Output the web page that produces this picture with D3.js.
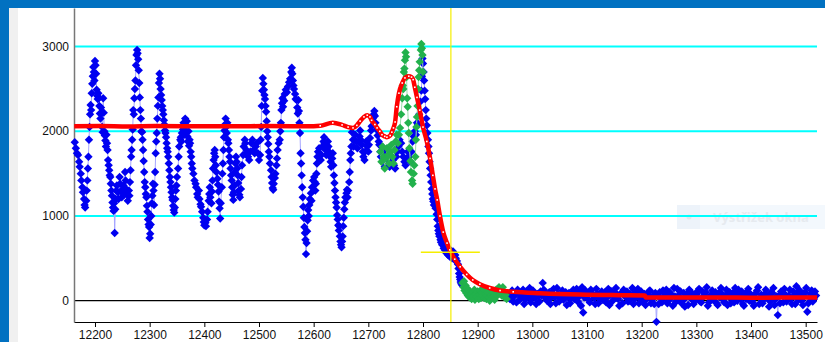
<!DOCTYPE html>
<html>
<head>
<meta charset="utf-8">
<script src="https://cdn.jsdelivr.net/npm/d3@7"></script>
<style>
  body { margin: 0; background: #fff; }
  svg { display: block; }
  .axis text { font-family: "Liberation Sans", Arial, sans-serif; font-size: 12px; fill: #111; }
</style>
</head>
<body>
<svg id="chart" width="825" height="342"></svg>
<script>
const xTicks = [12200, 12300, 12400, 12500, 12600, 12700, 12800, 12900, 13000, 13100, 13200, 13300, 13400, 13500];
const yTicks = [0, 1000, 2000, 3000];
const gridValues = [1000, 2000, 3000];

// measured signal, noisy part and the drop
const blueMain = [
  [12163,1870],[12165,1800],[12167,1740],[12169,1720],[12171,1640],[12172,1580],[12174,1500],[12175,1420],[12177,1340],[12178,1280],
  [12180,1200],[12181,1130],[12182,1100],[12184,1180],[12185,1300],[12186,1420],[12187,1560],[12188,1700],[12189,1900],[12190,2050],
  [12191,2200],[12192,2310],[12193,2250],[12194,2450],[12195,2560],[12196,2650],[12197,2760],[12198,2700],[12199,2600],[12200,2830],
  [12201,2780],[12202,2680],[12203,2490],[12204,2420],[12205,2380],[12206,2450],[12207,2390],[12208,2300],[12209,2210],[12210,2150],
  [12211,2280],[12212,2210],[12213,2050],[12214,1990],[12215,2390],[12216,2220],[12217,2000],[12218,1950],[12219,1890],[12220,1820],
  [12221,1960],[12222,1860],[12223,1780],[12224,1660],[12225,1600],[12226,1540],[12227,1480],[12228,1460],[12229,1380],[12230,1300],
  [12231,1240],[12232,1160],[12233,1100],[12234,1060],[12235,1150],[12236,800],[12237,1080],[12238,1200],[12239,1300],[12240,1360],
  [12242,1280],[12243,1200],[12245,1460],[12246,1380],[12248,1300],[12249,1220],[12250,1280],[12252,1360],[12253,1250],[12255,1520],
  [12256,1420],[12257,1320],[12259,1250],[12260,1180],[12262,1300],[12263,1240],[12264,1400],[12265,1540],[12266,1700],[12267,1780],
  [12268,1900],[12269,2020],[12270,2250],[12271,2200],[12272,2390],[12273,2500],[12274,2600],[12275,2780],[12276,2900],[12277,2960],
  [12278,2920],[12279,2850],[12280,2720],[12281,2570],[12282,2400],[12283,2250],[12284,2150],[12285,2000],[12286,1990],[12287,1900],
  [12288,1780],[12289,1650],[12290,1520],[12291,1400],[12292,1340],[12293,1260],[12294,1220],[12295,1120],[12296,1050],[12297,960],
  [12298,900],[12299,870],[12300,740],[12301,790],[12302,900],[12303,1000],[12304,1150],[12305,1240],[12306,1380],[12307,1300],
  [12308,1130],[12309,1370],[12310,1520],[12311,1740],[12312,1880],[12313,1980],[12314,2150],[12315,2300],[12316,2400],[12317,2570],
  [12318,2680],[12319,2620],[12320,2500],[12321,2430],[12322,2370],[12323,2300],[12324,2250],[12325,2200],[12326,2130],[12327,2080],
  [12328,2010],[12329,1980],[12330,1930],[12331,1860],[12332,1800],[12333,1760],[12334,1700],[12335,1620],[12336,1540],[12337,1460],
  [12338,1400],[12339,1340],[12340,1280],[12341,1220],[12342,1190],[12343,1120],[12344,1070],[12345,1040],[12346,1100],[12347,1200],
  [12348,1300],[12349,1360],[12350,1460],[12352,1560],[12353,1700],[12354,1820],[12356,1900],[12357,1930],[12358,1880],[12359,1980],
  [12360,2060],[12361,2020],[12362,2100],[12363,1960],[12364,2050],[12365,2150],[12366,2080],[12367,1990],[12368,2120],[12369,1940],
  [12370,1880],[12371,2000],[12372,1830],[12373,1900],[12374,1860],[12375,1760],[12376,1700],[12377,1620],[12378,1560],[12380,1500],
  [12382,1420],[12384,1380],[12385,1340],[12387,1260],[12388,1220],[12390,1300],[12391,1200],[12393,1140],[12394,1110],[12396,1050],
  [12398,980],[12399,930],[12400,890],[12402,920],[12403,880],[12405,960],[12406,1050],[12408,1180],[12409,1260],[12410,1340],
  [12411,1220],[12413,1150],[12414,1290],[12415,1420],[12416,1560],[12417,1660],[12418,1740],[12419,1780],[12420,1700],[12421,1600],
  [12422,1520],[12424,1440],[12425,1370],[12426,1290],[12427,1170],[12428,1090],[12429,970],[12430,1150],[12432,1340],[12433,1500],
  [12434,1620],[12435,1780],[12436,1930],[12437,2010],[12438,2080],[12439,2150],[12440,2050],[12441,1980],[12442,2100],[12443,1900],
  [12444,1860],[12445,1780],[12446,1700],[12447,1640],[12448,1560],[12449,1480],[12450,1420],[12451,1340],[12452,1250],[12453,1190],
  [12454,1280],[12455,1360],[12456,1520],[12457,1620],[12458,1700],[12459,1640],[12460,1560],[12461,1480],[12462,1390],[12463,1300],
  [12464,1250],[12465,1220],[12467,1320],[12468,1460],[12469,1600],[12471,1720],[12472,1820],[12474,1900],[12475,1860],[12477,1780],
  [12478,1740],[12480,1700],[12482,1660],[12484,1760],[12486,1860],[12488,1900],[12490,1780],[12492,1740],[12494,1820],[12496,1860],
  [12498,1740],[12500,1660],[12502,1720],[12503,1900],[12504,2050],[12505,2300],[12506,2480],[12507,2630],[12508,2560],[12509,2490],
  [12510,2430],[12511,2380],[12512,2300],[12513,2230],[12514,2120],[12515,2000],[12516,1930],[12517,1850],[12518,1760],[12519,1700],
  [12520,1620],[12522,1540],[12523,1460],[12524,1390],[12525,1330],[12526,1310],[12527,1380],[12529,1450],[12530,1500],[12532,1600],
  [12533,1680],[12534,1780],[12536,1860],[12538,1900],[12539,2000],[12540,2100],[12541,2250],[12542,2330],[12543,2390],[12544,2290],
  [12546,2360],[12547,2440],[12549,2490],[12551,2460],[12553,2530],[12555,2580],[12557,2620],[12559,2700],[12560,2750],[12561,2680],
  [12562,2600],[12563,2540],[12564,2500],[12566,2440],[12567,2380],[12569,2370],[12570,2280],[12571,2210],[12572,2370],[12573,2240],
  [12574,2100],[12575,1980],[12576,1740],[12577,1620],[12578,1480],[12579,1340],[12580,1220],[12581,1110],[12582,980],[12583,870],
  [12584,800],[12585,720],[12586,550],[12587,680],[12588,820],[12589,950],[12590,1070],[12591,1000],[12592,1130],[12593,1200],
  [12595,1270],[12596,1180],[12597,1340],[12599,1420],[12601,1460],[12602,1400],[12603,1300],[12604,1380],[12605,1500],[12606,1620],
  [12607,1700],[12608,1760],[12610,1800],[12611,1740],[12613,1660],[12614,1720],[12616,1820],[12618,1880],[12619,1930],[12620,1860],
  [12622,1780],[12623,1720],[12624,1800],[12626,1880],[12627,1820],[12628,1760],[12630,1700],[12631,1640],[12632,1580],[12634,1680],
  [12635,1740],[12636,1600],[12637,1480],[12638,1390],[12639,1300],[12640,1220],[12641,1160],[12642,1100],[12643,1010],[12644,960],
  [12645,890],[12646,830],[12647,880],[12648,760],[12649,700],[12650,660],[12651,630],[12652,700],[12653,760],[12654,880],
  [12655,980],[12656,1080],[12657,1160],[12658,1220],[12660,1270],[12661,1310],[12662,1220],[12663,1300],[12665,1400],[12666,1520],
  [12667,1660],[12668,1740],[12669,1820],[12670,1990],[12672,1900],[12673,1820],[12674,1900],[12676,1960],[12678,1880],[12680,1800],
  [12682,1880],[12684,1940],[12685,2010],[12686,1900],[12688,1840],[12690,1760],[12691,1700],[12693,1660],[12694,1760],[12696,1880],
  [12698,1820],[12700,1760],[12701,1840],[12703,1920],[12705,2010],[12706,2060],[12708,2150],[12710,2200],[12711,2240],[12712,2180],
  [12713,2100],[12715,2020],[12717,1950],[12719,1880],[12720,1840],[12722,1760],[12723,1700],[12725,1820],[12727,1760],[12728,1640],
  [12730,1580],[12731,1700],[12733,1780],[12735,1720],[12737,1640],[12739,1580],[12741,1620],[12743,1700],[12745,1660],[12747,1600],
  [12749,1560],[12751,1700],[12753,1760],[12755,1820],[12757,1900],[12760,1860],[12762,1760],[12764,1700],[12766,1640],[12768,1600],
  [12770,1680],[12772,1760],[12774,1700],[12777,1640],[12779,1760],[12781,1880],[12783,1940],[12785,2000],[12787,1960],[12789,2100],
  [12791,2080],[12793,2200],[12795,2350],[12797,2480],[12798,2650],[12799,2860],[12800,2800],[12801,2700],[12802,2600],[12803,2480],
  [12804,2380],[12805,2250],[12806,2150],[12807,2070],[12808,1980],[12809,1900],[12810,1820],[12811,1740],[12812,1640],[12813,1560],
  [12814,1480],[12815,1400],[12816,1320],[12817,1260],[12818,1200],[12819,1170],[12820,1130],[12822,1180],[12823,1090],[12825,1020],
  [12826,960],[12827,880],[12828,830],[12829,790],[12830,760],[12832,720],[12833,690],[12835,660],[12836,720],[12838,620],
  [12839,660],[12840,600],[12842,650],[12843,560],[12845,620],[12846,540],[12847,580],[12849,520],[12850,600],[12852,560],
  [12853,500],[12855,580],[12856,520],[12858,480],[12859,540],[12860,500],[12862,470],[12864,430],[12865,380],[12866,320],
  [12867,280],[12868,250],[12869,220],[12870,200],[12872,180]
];

// measured signal after the drop (two sets of readings, merged below)
const blueTail = [
  [12955,80],[12959,20],[12963,120],[12967,60],[12971,-20],[12975,90],[12979,40],[12983,130],[12987,10],[12991,70],
  [12995,150],[12999,30],[13003,90],[13007,-40],[13011,60],[13015,110],[13019,210],[13023,50],[13027,0],[13031,100],
  [13035,40],[13039,140],[13043,-30],[13047,80],[13051,20],[13055,120],[13059,60],[13063,-50],[13067,90],[13071,30],
  [13075,130],[13079,70],[13083,-10],[13087,100],[13091,160],[13093,-140],[13095,40],[13099,90],[13103,10],[13107,130],
  [13111,60],[13115,-40],[13119,80],[13123,20],[13127,110],[13131,50],[13135,-20],[13139,140],[13143,70],[13147,0],
  [13151,100],[13155,30],[13159,-60],[13163,90],[13167,130],[13171,40],[13175,-10],[13179,80],[13183,150],[13187,20],
  [13191,60],[13195,-30],[13199,110],[13203,50],[13207,-50],[13211,70],[13215,120],[13219,10],[13223,-40],[13227,-250],
  [13229,60],[13233,100],[13237,-20],[13241,40],[13245,130],[13249,0],[13253,80],[13257,-60],[13261,50],[13265,140],
  [13269,20],[13273,-30],[13277,90],[13281,40],[13285,-50],[13289,110],[13293,60],[13297,0],[13301,80],[13305,140],
  [13309,-20],[13313,50],[13317,100],[13321,-60],[13325,30],[13329,120],[13333,70],[13337,-30],[13341,90],[13345,150],
  [13349,10],[13353,60],[13357,-50],[13361,100],[13365,30],[13369,-20],[13373,80],[13377,130],[13381,20],[13385,-40],
  [13389,70],[13393,110],[13397,0],[13401,50],[13405,-60],[13409,90],[13413,160],[13417,30],[13421,-30],[13425,80],
  [13429,40],[13433,-70],[13437,100],[13441,150],[13445,20],[13449,-170],[13451,60],[13455,110],[13459,-20],[13463,70],
  [13467,30],[13471,130],[13475,-40],[13479,60],[13483,170],[13487,10],[13491,80],[13495,-50],[13499,100],[13503,-130],
  [13507,40],[13511,120],[13515,20],[13519,60]
];
const blueTailB = [
  [12957,40],[12961,100],[12965,-10],[12969,70],[12973,130],[12977,10],[12981,60],[12985,-40],[12989,110],[12993,50],
  [12997,-20],[13001,120],[13005,30],[13009,80],[13013,-10],[13017,60],[13021,130],[13025,20],[13029,70],[13033,-40],
  [13037,90],[13041,40],[13045,150],[13049,-10],[13053,70],[13057,10],[13061,100],[13065,40],[13069,-30],[13073,80],
  [13077,20],[13081,140],[13085,50],[13089,-60],[13097,120],[13101,60],[13105,-20],[13109,90],[13113,30],[13117,140],
  [13121,-30],[13125,70],[13129,10],[13133,100],[13137,40],[13141,-50],[13145,110],[13149,60],[13153,150],[13157,20],
  [13161,80],[13165,-30],[13169,60],[13173,110],[13177,0],[13181,50],[13185,-40],[13189,100],[13193,140],[13197,30],
  [13201,-10],[13205,80],[13209,20],[13213,110],[13217,-30],[13221,60],[13225,90],[13231,-40],[13235,30],[13239,120],
  [13243,70],[13247,-30],[13251,100],[13255,40],[13259,150],[13263,-10],[13267,60],[13271,110],[13275,0],[13279,-70],
  [13283,80],[13287,130],[13291,20],[13295,-40],[13299,90],[13303,30],[13307,-10],[13311,110],[13315,60],[13319,160],
  [13323,-20],[13327,70],[13331,10],[13335,100],[13339,-50],[13343,40],[13347,80],[13351,-20],[13355,130],[13359,50],
  [13363,-30],[13367,90],[13371,150],[13375,0],[13379,60],[13383,110],[13387,-60],[13391,20],[13395,140],[13399,80],
  [13403,-20],[13407,40],[13411,120],[13415,-40],[13419,70],[13423,10],[13427,130],[13431,60],[13435,-10],[13439,90],
  [13443,-50],[13447,50],[13453,-30],[13457,80],[13461,140],[13465,-10],[13469,60],[13473,20],[13477,110],[13481,-40],
  [13485,70],[13489,120],[13493,0],[13497,50],[13501,150],[13505,-30],[13509,80],[13513,-10],[13517,110]
];

// selected (green) points
const greenA = [
  [12722,1760],[12724,1640],[12726,1820],[12728,1700],[12730,1560],[12732,1680],[12734,1800],[12736,1720],[12738,1620],[12740,1760],
  [12742,1840],[12744,1700],[12746,1620],[12748,1780],[12750,1880],[12752,1960],[12754,1860],[12756,1960],[12758,2040],[12760,2200],
  [12762,2390],[12763,2540],[12764,2500],[12765,2700],[12766,2740],[12767,2840],[12768,2930],[12769,2880],[12770,2640],[12771,2390],
  [12772,2290],[12773,2100],[12774,1980],[12775,1800],[12777,1650],[12778,1520],[12780,1420],[12781,1380],[12783,1500],[12784,1600],
  [12786,1700],[12787,1900],[12788,2050],[12789,2170],[12790,2300],[12791,2500],[12792,2640],[12793,2720],[12794,2820],[12796,2960],
  [12797,3030],[12798,2980],[12799,2900],[12800,2700]
];
const greenB = [
  [12872,210],[12874,160],[12875,230],[12876,120],[12878,180],[12879,90],[12880,150],[12882,60],[12883,130],[12885,40],
  [12886,110],[12888,70],[12889,20],[12891,100],[12892,50],[12894,130],[12895,10],[12897,80],[12898,40],[12900,110],
  [12902,20],[12903,70],[12905,120],[12906,30],[12908,90],[12909,60],[12911,140],[12912,30],[12914,80],[12916,20],
  [12917,60],[12919,100],[12921,40],[12922,0],[12924,70],[12926,30],[12927,110],[12929,50],[12931,10],[12932,90],
  [12934,130],[12936,60],[12937,100],[12939,160],[12941,80],[12942,120],[12944,60],[12946,160],[12947,100],[12949,40],
  [12951,70],[12953,20]
];

// fitted curve (red)
const redFit = [
  [12162,2060],[12210,2062],[12260,2058],[12310,2062],[12360,2060],[12410,2061],[12460,2059],[12510,2062],[12560,2060],[12600,2060],
  [12612,2065],[12635,2100],[12652,2075],[12663,2050],[12672,2040],[12679,2070],[12685,2120],[12692,2170],[12698,2190],[12703,2170],
  [12706,2130],[12712,2080],[12716,2040],[12721,2000],[12725,1960],[12730,1940],[12734,1930],[12740,1950],[12743,1990],[12746,2040],
  [12749,2110],[12752,2290],[12756,2450],[12762,2570],[12767,2630],[12774,2650],[12779,2640],[12782,2610],[12785,2520],[12789,2400],
  [12794,2250],[12800,2050],[12807,1880],[12813,1680],[12818,1480],[12822,1320],[12826,1190],[12831,1000],[12837,810],[12844,680],
  [12849,600],[12858,490],[12868,400],[12880,310],[12891,245],[12904,195],[12922,150],[12941,120],[12965,105],[13014,88],
  [13087,72],[13160,65],[13206,62],[13207,38],[13300,38],[13400,36],[13521,38]
];

// cursor (yellow cross)
const cursorX = 12851;
const cursorY = 571;
const cursorSpan = [12796, 12904];

const W = 825, H = 342;
const svg = d3.select('#chart');

const x = d3.scaleLinear().domain([12161.6, 13520.7]).range([74, 817]);
const y = d3.scaleLinear().domain([-251.5, 3455.7]).range([322, 8]);

// window frame
svg.append('rect').attr('x', 0).attr('y', 0).attr('width', W).attr('height', H).attr('fill', '#fff');
svg.append('rect').attr('x', 9).attr('y', 8).attr('width', 9).attr('height', H - 8).attr('fill', '#f0f0f0');
svg.append('rect').attr('x', 0).attr('y', 0).attr('width', 9).attr('height', H).attr('fill', '#0171c1');
svg.append('rect').attr('x', 0).attr('y', 0).attr('width', W).attr('height', 8).attr('fill', '#0171c1');

// faint snipping tooltip behind the grid
const tip = svg.append('g');
tip.append('rect').attr('x', 677).attr('y', 205).attr('width', 148).attr('height', 24).attr('fill', '#f3f8fd');
tip.append('rect').attr('x', 677).attr('y', 205).attr('width', 23).attr('height', 24).attr('fill', '#edf3fa');
tip.append('circle').attr('cx', 689).attr('cy', 217).attr('r', 2.5).attr('fill', '#e2e6ea');
tip.append('text').attr('x', 713).attr('y', 222).text('Výstřižek okna')
  .attr('font-family', '"Noto Sans", sans-serif').attr('font-size', 13).attr('font-weight', 'bold').attr('fill', '#e6eaef');

// grid
svg.append('g').selectAll('line').data(gridValues).join('line')
  .attr('x1', 74).attr('x2', 817)
  .attr('y1', d => y(d)).attr('y2', d => y(d))
  .attr('stroke', '#00ffff').attr('stroke-width', 2);
svg.append('line').attr('x1', 74).attr('x2', 817).attr('y1', y(0)).attr('y2', y(0))
  .attr('stroke', '#000').attr('stroke-width', 1.2);

// axes
const xAxis = svg.append('g').attr('class', 'axis')
  .attr('transform', 'translate(0,322)')
  .call(d3.axisBottom(x).tickValues(xTicks).tickFormat(d3.format('d')).tickSize(5).tickSizeOuter(0));
xAxis.attr('font-family', null).attr('font-size', null);
xAxis.select('.domain').attr('stroke', '#000');

const yAxis = svg.append('g').attr('class', 'axis')
  .attr('transform', 'translate(74,0)')
  .call(d3.axisLeft(y).tickValues(yTicks).tickFormat(d3.format('d')).tickSize(0).tickSizeOuter(0).tickPadding(5));
yAxis.attr('font-family', null).attr('font-size', null);
yAxis.select('.domain').attr('stroke', '#777').attr('stroke-width', 1.5);
yAxis.selectAll('text').attr('dy', '0.3em');

const diamond = 'M0,-4.2L4.2,0L0,4.2L-4.2,0Z';
const line = d3.line().x(d => x(d[0])).y(d => y(d[1]));

function drawSeries(data, lineColor, fill) {
  const g = svg.append('g');
  g.append('path').datum(data).attr('d', line)
    .attr('fill', 'none').attr('stroke', lineColor).attr('stroke-width', 1);
  g.selectAll('path.pt').data(data).join('path').attr('class', 'pt')
    .attr('d', diamond)
    .attr('transform', d => `translate(${x(d[0])},${y(d[1])})`)
    .attr('fill', fill);
}

const tail = blueTail.concat(blueTailB).sort((a, b) => a[0] - b[0]);

drawSeries(blueMain, '#a6a6ff', '#0000f0');
drawSeries(tail, '#a6a6ff', '#0000f0');
drawSeries(greenA, '#9fdcae', '#22b14c');
drawSeries(greenB, '#9fdcae', '#22b14c');

// fit curve
const redLine = d3.line().x(d => x(d[0])).y(d => y(d[1])).curve(d3.curveMonotoneX);
svg.append('path').datum(redFit).attr('d', redLine)
  .attr('fill', 'none').attr('stroke', '#ff0000').attr('stroke-width', 4.5).attr('stroke-linejoin', 'round');
svg.append('g').selectAll('rect').data(redFit.filter(d => d[0] > 12600 && d[0] < 13000)).join('rect')
  .attr('x', d => x(d[0]) - 0.8).attr('y', d => y(d[1]) - 0.8)
  .attr('width', 1.6).attr('height', 1.6).attr('fill', '#fff');

// cursor
svg.append('line').attr('x1', x(cursorX)).attr('x2', x(cursorX)).attr('y1', 8).attr('y2', 322)
  .attr('stroke', '#f5ee00').attr('stroke-width', 1.2);
svg.append('line').attr('x1', x(cursorSpan[0])).attr('x2', x(cursorSpan[1])).attr('y1', y(cursorY)).attr('y2', y(cursorY))
  .attr('stroke', '#f5ee00').attr('stroke-width', 1.5);
</script>
</body>
</html>
